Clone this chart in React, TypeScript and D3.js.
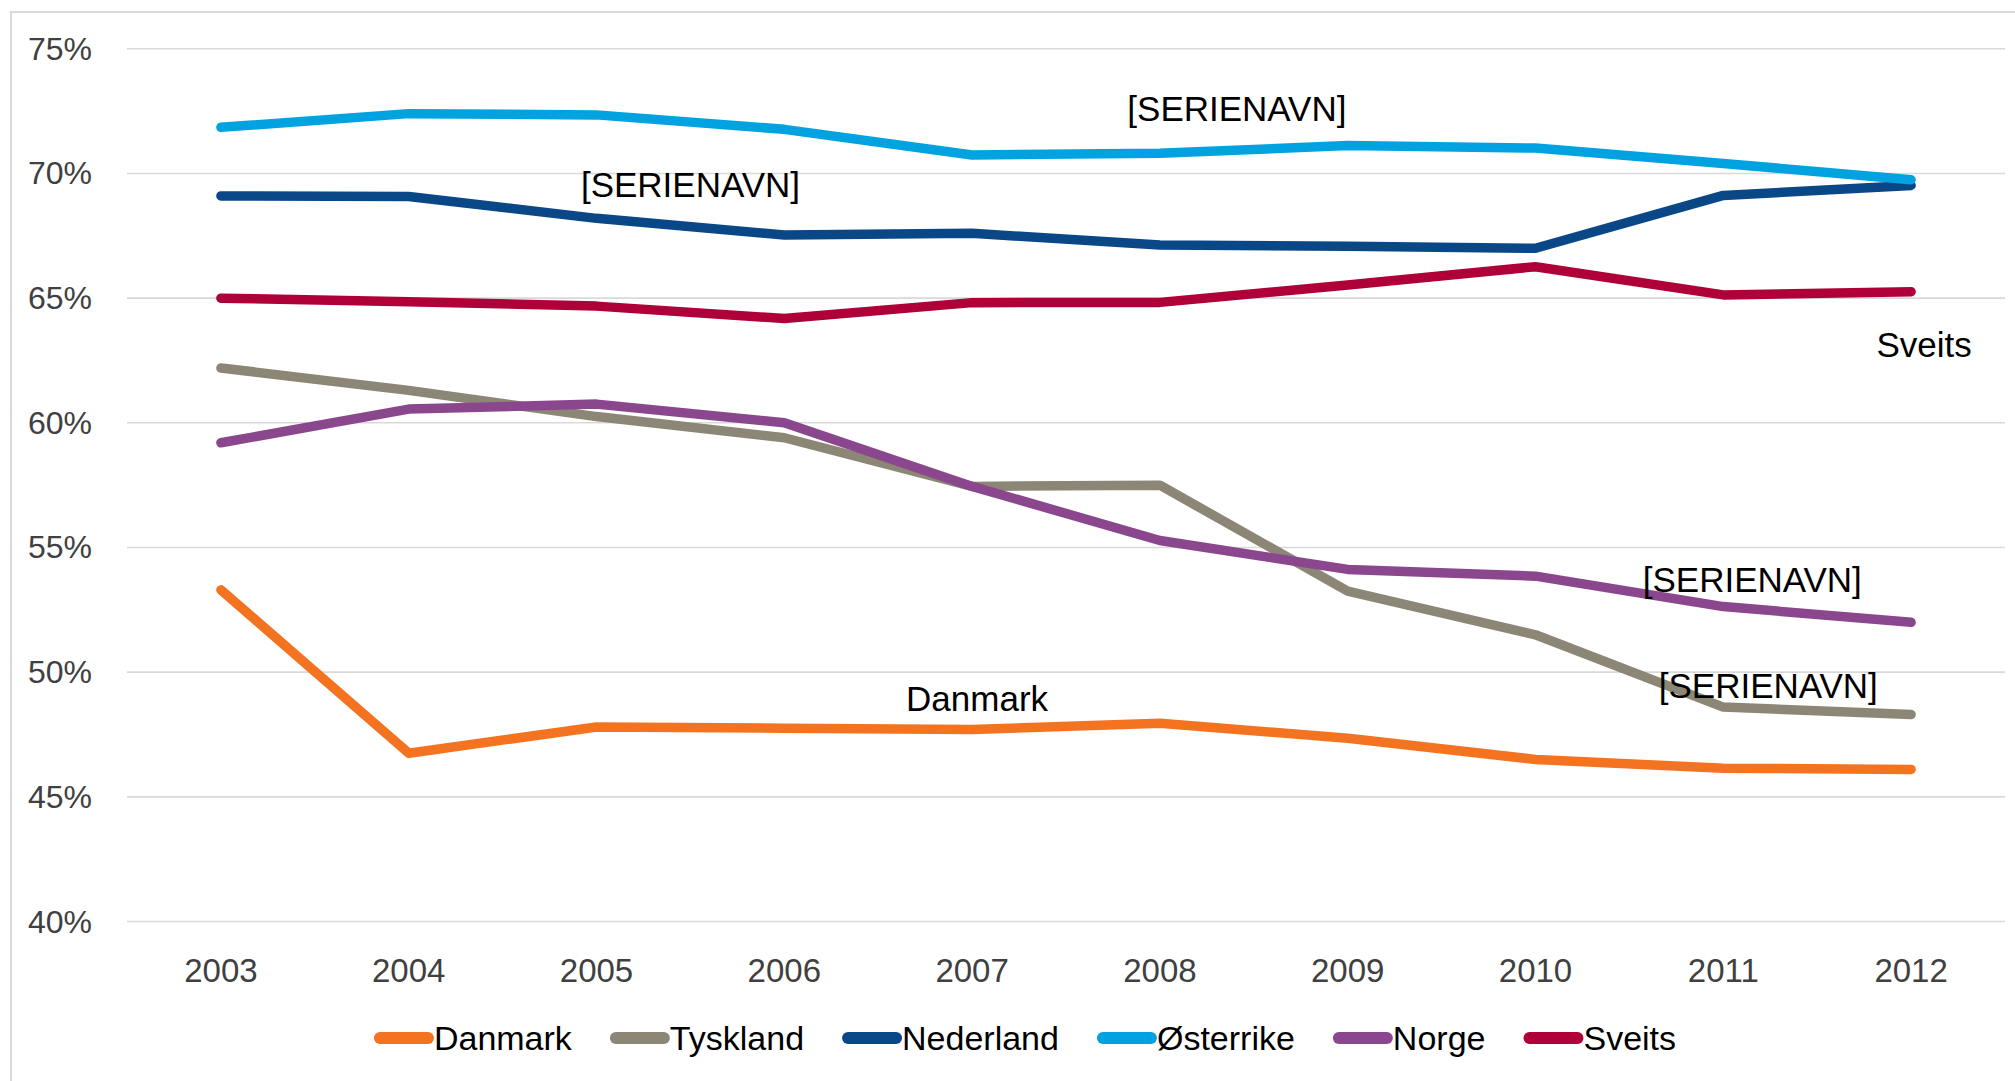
import { useEffect, useRef } from 'react';
import * as d3 from 'd3';

const years = ['2003', '2004', '2005', '2006', '2007', '2008', '2009', '2010', '2011', '2012'];
const yTicks = [40, 45, 50, 55, 60, 65, 70, 75];

const seriesNames = ['Danmark', 'Tyskland', 'Nederland', 'Østerrike', 'Norge', 'Sveits'];
const seriesColors = ['#F37321', '#8B8676', '#0A4787', '#00A3E0', '#8B478D', '#AF003A'];

const danmark = [53.3, 46.75, 47.8, 47.75, 47.7, 47.95, 47.35, 46.5, 46.15, 46.1];
const tyskland = [62.2, 61.3, 60.25, 59.4, 57.45, 57.5, 53.25, 51.5, 48.6, 48.3];
const nederland = [69.1, 69.08, 68.2, 67.53, 67.6, 67.13, 67.08, 67.0, 69.12, 69.52];
const osterrike = [71.85, 72.4, 72.35, 71.77, 70.74, 70.81, 71.12, 71.02, 70.4, 69.75];
const norge = [59.2, 60.55, 60.75, 60.0, 57.45, 55.28, 54.12, 53.85, 52.63, 52.0];
const sveits = [65.0, 64.86, 64.68, 64.18, 64.82, 64.83, 65.53, 66.26, 65.13, 65.26];

const seriesValues = [danmark, tyskland, nederland, osterrike, norge, sveits];

// data labels: series index, point index, text
const labelSeries = [3, 2, 5, 4, 1, 0];
const labelPoints = [5, 2, 9, 8, 8, 4];
const labelTexts = ['[SERIENAVN]', '[SERIENAVN]', 'Sveits', '[SERIENAVN]', '[SERIENAVN]', 'Danmark'];

const FONT = "'Liberation Sans', Arial, sans-serif";

export default function App() {
  const svgRef = useRef<SVGSVGElement>(null);

  useEffect(() => {
    document.body.style.margin = '0';
    if (!svgRef.current) return;
    const svg = d3.select(svgRef.current);
    svg.selectAll('*').remove();

    const width = 2015;
    const height = 1081;
    const plot = { left: 127, right: 2005, top: 48.8, bottom: 921.5 };

    // chart border
    svg.append('rect')
      .attr('x', 11).attr('y', 12)
      .attr('width', width).attr('height', height)
      .attr('fill', 'none')
      .attr('stroke', '#d9d9d9')
      .attr('stroke-width', 2);

    const x = d3.scaleBand().domain(years).range([plot.left, plot.right]).padding(0);
    const cx = (yr: string) => (x(yr) as number) + x.bandwidth() / 2;
    const y = d3.scaleLinear().domain([40, 75]).range([plot.bottom, plot.top]);

    // gridlines
    svg.append('g')
      .selectAll('line')
      .data(yTicks)
      .join('line')
      .attr('x1', plot.left).attr('x2', plot.right)
      .attr('y1', d => y(d)).attr('y2', d => y(d))
      .attr('stroke', '#d9d9d9')
      .attr('stroke-width', 1.6);

    // y tick labels
    svg.append('g')
      .selectAll('text')
      .data(yTicks)
      .join('text')
      .attr('x', 92)
      .attr('y', d => y(d))
      .attr('text-anchor', 'end')
      .attr('dominant-baseline', 'central')
      .attr('font-family', FONT)
      .attr('font-size', 32)
      .attr('fill', '#404040')
      .text(d => `${d}%`);

    // x tick labels
    svg.append('g')
      .selectAll('text')
      .data(years)
      .join('text')
      .attr('x', d => cx(d))
      .attr('y', 970)
      .attr('text-anchor', 'middle')
      .attr('dominant-baseline', 'central')
      .attr('font-family', FONT)
      .attr('font-size', 33)
      .attr('fill', '#404040')
      .text(d => d);

    // lines
    const line = d3.line<number>()
      .x((_, i) => cx(years[i]))
      .y(d => y(d));

    seriesValues.forEach((vals, si) => {
      svg.append('path')
        .datum(vals)
        .attr('d', line)
        .attr('fill', 'none')
        .attr('stroke', seriesColors[si])
        .attr('stroke-width', 9.5)
        .attr('stroke-linecap', 'round')
        .attr('stroke-linejoin', 'round');
    });

    // data labels
    const labelOffsets: [number, number][] = [[77, -45], [94, -34], [13, 53], [29, -27], [45, -22], [5, -31]];
    labelTexts.forEach((t, i) => {
      const si = labelSeries[i];
      const pi = labelPoints[i];
      svg.append('text')
        .attr('x', cx(years[pi]) + labelOffsets[i][0])
        .attr('y', y(seriesValues[si][pi]) + labelOffsets[i][1])
        .attr('text-anchor', 'middle')
        .attr('dominant-baseline', 'central')
        .attr('font-family', FONT)
        .attr('font-size', 35)
        .attr('fill', '#000')
        .text(t);
    });

    // legend
    const legend = svg.append('g');
    const swatchW = 60;
    const gap = 38;
    let lx = 0;
    seriesNames.forEach((name, i) => {
      const item = legend.append('g').attr('transform', `translate(${lx},0)`);
      item.append('line')
        .attr('x1', 6).attr('x2', swatchW - 6)
        .attr('y1', 0).attr('y2', 0)
        .attr('stroke', seriesColors[i])
        .attr('stroke-width', 12)
        .attr('stroke-linecap', 'round');
      const txt = item.append('text')
        .attr('x', swatchW)
        .attr('y', 0)
        .attr('dominant-baseline', 'central')
        .attr('font-family', FONT)
        .attr('font-size', 34)
        .attr('fill', '#000')
        .text(name);
      const w = (txt.node() as SVGTextElement).getComputedTextLength();
      lx += swatchW + w + gap;
    });
    const totalW = lx - gap;
    legend.attr('transform', `translate(${1025 - totalW / 2},1038)`);
  }, []);

  return <svg ref={svgRef} width={2015} height={1081} style={{ display: 'block', background: '#fff' }} />;
}
